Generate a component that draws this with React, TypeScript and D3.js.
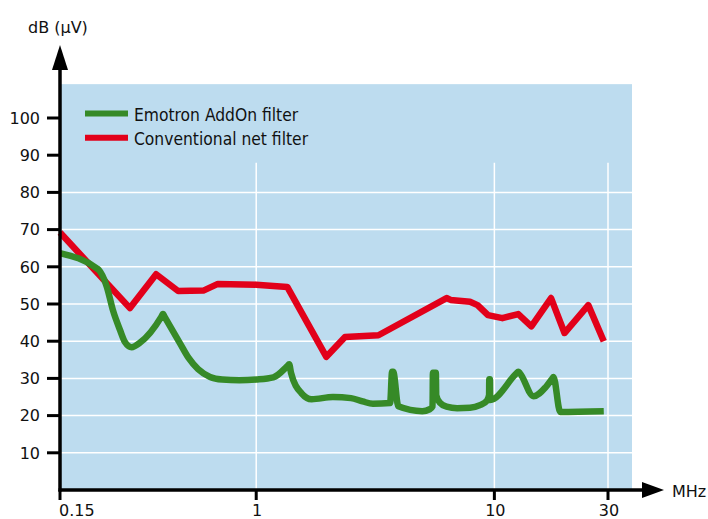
import * as d3 from "d3";
import { useRef, useEffect } from "react";

// frequency (MHz) and level (dB µV)
const conventionalFreq = [0.15, 0.295, 0.38, 0.47, 0.6, 0.69, 1.0, 1.35, 1.97, 2.36, 3.26, 6.3, 6.55, 7.9, 8.5, 9.4, 10.8, 12.6, 14.3, 17.3, 19.7, 24.8, 28.8];
const conventionalDb = [69.2, 48.9, 58, 53.5, 53.6, 55.4, 55.2, 54.6, 35.8, 41.1, 41.6, 51.6, 51.1, 50.6, 49.7, 47, 46.2, 47.3, 44, 51.6, 42.2, 49.7, 40];

const addOnFreq = [0.15, 0.214, 0.218, 0.236, 0.25, 0.268, 0.281, 0.3, 0.325, 0.4, 0.406, 0.412, 0.478, 0.52, 0.57, 0.64, 0.72, 0.85, 1.0, 1.18, 1.35, 1.375, 1.4, 1.55, 1.71, 2.1, 2.5, 2.8, 3.09, 3.65, 3.72, 3.76, 3.95, 4.98, 5.35, 5.5, 5.52, 5.68, 5.7, 5.9, 6.3, 6.98, 7.9, 8.7, 9.3, 9.5, 9.52, 9.58, 9.6, 12.4, 12.6, 12.8, 14.6, 16.4, 17.6, 17.7, 18.9, 28.8];
const addOnDb = [63.7, 59.6, 59.2, 54.6, 48.4, 43, 39.8, 38.4, 39.6, 46.6, 47.3, 46.6, 39.5, 35.5, 32.5, 30.4, 29.7, 29.5, 29.7, 30.3, 33.3, 33.8, 31.5, 26, 24.4, 25, 24.7, 23.8, 23.2, 23.4, 31.8, 31.8, 22.5, 21.2, 21.7, 22.5, 31.5, 31.5, 25.5, 23.5, 22.4, 22, 22.1, 22.8, 24, 25.5, 29.8, 29.8, 24.2, 31.4, 31.8, 31.4, 25.2, 27.6, 30.2, 30.4, 21, 21.2];

const yTicks = [10, 20, 30, 40, 50, 60, 70, 80, 90, 100];
const yGrid = [10, 20, 30, 40, 50, 60, 70, 80];
const xTicks = [0.15, 1, 10, 30];
const xTickLabels = ["0.15", "1", "10", "30"];
const xGrid = [1, 10, 30];

const seriesNames = ["Emotron AddOn filter", "Conventional net filter"];
const seriesColors = ["#368a27", "#e2001a"];

const font = "'DejaVu Sans', Verdana, sans-serif";
const legendFont = "'DejaVu Sans Condensed', 'Liberation Sans', Arial, sans-serif";

export default function App() {
  const ref = useRef<SVGSVGElement | null>(null);

  useEffect(() => {
    const width = 708;
    const height = 519;
    const svg = d3.select(ref.current);
    svg.selectAll("*").remove();
    svg.attr("width", width).attr("height", height);

    const x = d3.scaleLog().domain([0.15, 30]).range([60, 608]);
    const y = d3.scaleLinear().domain([0, 100]).range([490, 118]);
    const plotRight = 632;

    // light blue plot area
    svg.append("rect")
      .attr("x", x(0.15) + 1)
      .attr("y", y(109.1))
      .attr("width", plotRight - x(0.15) - 1)
      .attr("height", y(0) - y(109.1))
      .attr("fill", "#bddcef");

    // grid
    svg.append("g")
      .selectAll("line")
      .data(yGrid)
      .join("line")
      .attr("x1", x(0.15) + 1)
      .attr("x2", plotRight)
      .attr("y1", d => y(d))
      .attr("y2", d => y(d))
      .attr("stroke", "#fff")
      .attr("stroke-width", 1.5);

    svg.append("g")
      .selectAll("line")
      .data(xGrid)
      .join("line")
      .attr("x1", d => x(d))
      .attr("x2", d => x(d))
      .attr("y1", y(88))
      .attr("y2", y(0))
      .attr("stroke", "#fff")
      .attr("stroke-width", 1.5);

    const line = (fs: number[], vs: number[], curve: d3.CurveFactory) =>
      d3.line<number>()
        .x(d => x(fs[d]))
        .y(d => y(vs[d]))
        .curve(curve)(d3.range(fs.length));

    svg.append("path")
      .attr("d", line(conventionalFreq, conventionalDb, d3.curveLinear))
      .attr("fill", "none")
      .attr("stroke", seriesColors[1])
      .attr("stroke-width", 6.5)
      .attr("stroke-linejoin", "round");

    svg.append("path")
      .attr("d", line(addOnFreq, addOnDb, d3.curveMonotoneX))
      .attr("fill", "none")
      .attr("stroke", seriesColors[0])
      .attr("stroke-width", 6.5)
      .attr("stroke-linejoin", "round");

    // legend
    const legend = svg.append("g");
    seriesNames.forEach((name, i) => {
      const ly = 113.5 + i * 24.3;
      legend.append("line")
        .attr("x1", 85).attr("x2", 128)
        .attr("y1", ly).attr("y2", ly)
        .attr("stroke", seriesColors[i])
        .attr("stroke-width", 6);
      legend.append("text")
        .attr("x", 134)
        .attr("y", ly + 7)
        .attr("font-family", legendFont)
        .attr("font-size", 17.3)
        .attr("fill", "#111")
        .text(name);
    });

    // axes
    const axis = svg.append("g").attr("stroke", "#000").attr("fill", "#000");
    axis.append("line")
      .attr("x1", x(0.15)).attr("x2", x(0.15))
      .attr("y1", 66).attr("y2", y(0) + 1.5)
      .attr("stroke-width", 3.5);
    axis.append("path")
      .attr("d", `M${x(0.15)},45L${x(0.15) - 8},70L${x(0.15) + 8},70Z`)
      .attr("stroke", "none");
    axis.append("line")
      .attr("x1", x(0.15) - 1.5).attr("x2", 645)
      .attr("y1", y(0)).attr("y2", y(0))
      .attr("stroke-width", 3.5);
    axis.append("path")
      .attr("d", `M642,${y(0) - 8}L664,${y(0)}L642,${y(0) + 8}Z`)
      .attr("stroke", "none");

    axis.append("g")
      .selectAll("line")
      .data(yTicks)
      .join("line")
      .attr("x1", 47).attr("x2", x(0.15))
      .attr("y1", d => y(d)).attr("y2", d => y(d))
      .attr("stroke-width", 3);

    axis.append("g")
      .selectAll("line")
      .data(xTicks)
      .join("line")
      .attr("x1", d => x(d)).attr("x2", d => x(d))
      .attr("y1", y(0)).attr("y2", y(0) + 10)
      .attr("stroke-width", 3);

    const labels = svg.append("g")
      .attr("font-family", font)
      .attr("font-size", 16)
      .attr("fill", "#111");

    labels.selectAll(".yl")
      .data(yTicks)
      .join("text")
      .attr("x", 40)
      .attr("y", d => y(d))
      .attr("dy", "0.36em")
      .attr("text-anchor", "end")
      .text(d => d);

    labels.selectAll(".xl")
      .data(xTicks)
      .join("text")
      .attr("x", (d, i) => (i === 0 ? x(d) - 1 : x(d) + 1))
      .attr("y", 516)
      .attr("text-anchor", (d, i) => (i === 0 ? "start" : "middle"))
      .text((d, i) => xTickLabels[i]);

    labels.append("text").attr("x", 672).attr("y", 497).text("MHz");
    labels.append("text").attr("x", 28).attr("y", 33).text("dB (µV)");
  }, []);

  return (
    <svg ref={ref} style={{ position: "absolute", left: 0, top: 0 }}></svg>
  );
}
